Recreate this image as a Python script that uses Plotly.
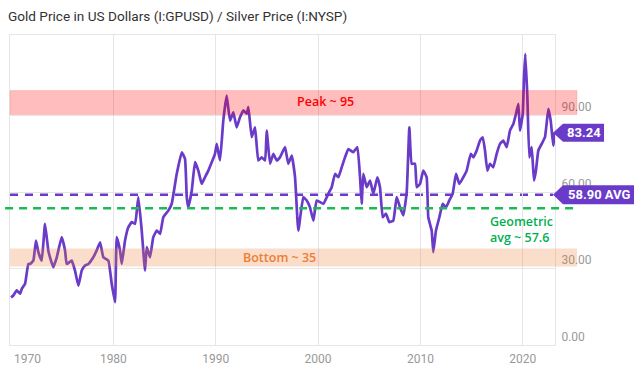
import plotly.graph_objects as go

# ---------------- data ----------------
years = [
    1970.00, 1970.23, 1970.56, 1970.88, 1971.05, 1971.37, 1971.69, 1971.86, 1972.18, 1972.44,
    1972.67, 1973.00, 1973.32, 1973.64, 1973.81, 1974.13, 1974.47, 1974.95, 1975.28, 1975.44,
    1975.93, 1976.25, 1976.58, 1976.91, 1977.23, 1977.55, 1978.04, 1978.37, 1978.70, 1979.02,
    1979.51, 1979.84, 1980.16, 1980.33, 1980.65, 1980.82, 1981.14, 1981.46, 1981.79, 1982.12,
    1982.44, 1982.77, 1983.09, 1983.26, 1983.58, 1983.90, 1984.24, 1984.56, 1984.88, 1985.37,
    1985.70, 1986.19, 1986.68, 1987.00, 1987.17, 1987.32, 1987.66, 1987.98, 1988.30, 1988.63,
    1988.95, 1989.28, 1989.61, 1989.93, 1990.10, 1990.42, 1990.74, 1991.07, 1991.40, 1991.72,
    1992.05, 1992.37, 1992.70, 1993.03, 1993.19, 1993.52, 1993.84, 1994.16, 1994.49, 1994.82,
    1994.98, 1995.31, 1995.63, 1995.96, 1996.28, 1996.77, 1997.09, 1997.43, 1997.75, 1998.07,
    1998.56, 1998.89, 1999.21, 1999.54, 1999.87, 2000.51, 2001.00, 2001.33, 2001.66, 2001.98,
    2002.31, 2002.63, 2002.96, 2003.44, 2003.84, 2004.10, 2004.26, 2004.42, 2004.75, 2005.08,
    2005.40, 2005.79, 2006.05, 2006.32, 2006.64, 2006.96, 2007.35, 2007.68, 2008.01, 2008.33,
    2008.66, 2008.92, 2009.15, 2009.47, 2009.64, 2009.96, 2010.28, 2010.61, 2010.77, 2011.10,
    2011.26, 2011.52, 2011.85, 2012.18, 2012.50, 2012.82, 2013.15, 2013.48, 2013.80, 2014.19,
    2014.52, 2014.92, 2015.17, 2015.50, 2015.82, 2016.09, 2016.31, 2016.54, 2016.80, 2017.12,
    2017.45, 2017.78, 2018.10, 2018.43, 2018.75, 2019.08, 2019.34, 2019.57, 2019.73, 2020.00,
    2020.12, 2020.25, 2020.45, 2020.64, 2020.87, 2021.10, 2021.29, 2021.52, 2021.85, 2022.17,
    2022.50, 2022.73, 2022.98, 2023.10,
]
ratio = [
    18.7, 19.4, 21.4, 20.1, 22.0, 24.0, 31.8, 31.8, 33.1, 41.0,
    36.4, 33.1, 47.5, 37.1, 34.4, 30.5, 34.4, 42.3, 37.1, 31.8,
    33.1, 29.2, 23.3, 29.2, 31.2, 31.8, 34.4, 37.1, 40.3, 34.4,
    33.1, 24.0, 16.8, 42.3, 37.1, 31.8, 41.0, 46.2, 48.2, 47.5,
    58.0, 44.9, 29.2, 38.4, 34.4, 42.3, 44.9, 43.6, 50.1, 52.7,
    55.4, 67.1, 75.6, 73.0, 58.0, 54.0, 60.6, 71.7, 68.4, 63.2,
    65.8, 68.4, 71.7, 75.0, 78.9, 72.4, 88.0, 97.8, 88.0, 91.3,
    85.4, 89.3, 92.0, 90.7, 93.3, 81.5, 85.4, 72.4, 73.6, 72.4,
    84.1, 71.1, 75.0, 72.4, 73.6, 77.6, 71.1, 74.3, 65.8, 44.9,
    58.0, 56.7, 54.0, 48.8, 56.7, 55.4, 59.3, 61.9, 67.1, 65.8,
    69.7, 73.6, 76.9, 75.6, 77.6, 65.8, 55.4, 67.1, 61.9, 64.5,
    59.3, 65.8, 61.9, 50.1, 51.5, 48.2, 48.8, 58.0, 54.0, 50.8,
    59.9, 85.4, 71.1, 71.1, 61.9, 63.2, 68.4, 65.8, 50.1, 44.9,
    36.4, 44.9, 50.1, 55.4, 54.0, 56.7, 59.3, 67.1, 63.2, 65.8,
    68.4, 75.0, 73.6, 76.3, 80.2, 81.5, 76.3, 68.4, 71.1, 69.7,
    75.0, 78.9, 80.2, 77.6, 84.1, 86.7, 90.7, 94.6, 84.1, 90.7,
    105.0, 114.2, 97.2, 73.6, 77.6, 64.5, 68.4, 76.3, 78.9, 81.5,
    92.6, 88.0, 78.2, 83.24,
]
last_value = 83.24
avg_value = 58.90
geo_avg_line = 53.6          # where the hand-drawn green line sits
peak_band = [90.4, 99.8]
bottom_band = [30.8, 37.9]

x_ticks = [1970, 1980, 1990, 2000, 2010, 2020]
x_labels = ["1970", "1980", "1990", "2000", "2010", "2020"]
y_ticks = [0, 30, 60, 90]
y_labels = ["0.00", "30.00", "60.00", "90.00"]

title = "Gold Price in US Dollars (I:GPUSD) / Silver Price (I:NYSP)"
purple = "#6a3bc9"
grid = "#e6e6e6"
tickgray = "#999999"

fig = go.Figure()
fig.add_trace(go.Scatter(x=years, y=ratio, mode="lines",
                         line=dict(color=purple, width=2.7, shape="spline", smoothing=0.35),
                         hoverinfo="skip", showlegend=False))

shapes = [
    dict(type="line", xref="paper", yref="y", x0=0, x1=0.9963, y0=avg_value, y1=avg_value,
         line=dict(color=purple, width=2.5, dash="8px,7px"), layer="below"),
    dict(type="rect", xref="paper", yref="y", x0=0, x1=1.0404, y0=peak_band[0], y1=peak_band[1],
         fillcolor="rgba(255,0,0,0.26)", line=dict(color="rgba(220,0,0,0.12)", width=1), layer="above"),
    dict(type="rect", xref="paper", yref="y", x0=0, x1=1.0404, y0=bottom_band[0], y1=bottom_band[1],
         fillcolor="rgba(237,125,49,0.25)", line=dict(width=0), layer="above"),
    dict(type="line", xref="paper", yref="y", x0=-0.009, x1=1.0404, y0=geo_avg_line, y1=geo_avg_line,
         line=dict(color="#1db954", width=2.5, dash="8px,6px"), layer="above"),
    dict(type="path", xref="paper", yref="y", xsizemode="pixel", ysizemode="pixel",
         xanchor=1, yanchor=last_value, path="M -2,0 L 8,9 L 49,9 L 49,-9 L 8,-9 Z",
         fillcolor=purple, line=dict(width=0), layer="above"),
    dict(type="path", xref="paper", yref="y", xsizemode="pixel", ysizemode="pixel",
         xanchor=1, yanchor=avg_value, path="M -2,0 L 8,9.5 L 79,9.5 L 79,-9.5 L 8,-9.5 Z",
         fillcolor=purple, line=dict(width=0), layer="above"),
]

annotations = [
    dict(text=f"{last_value:.2f}", x=1, xref="paper", y=last_value, yref="y", xshift=29,
         xanchor="center", yanchor="middle", showarrow=False,
         font=dict(family="Roboto", size=13, color="white", weight="bold")),
    dict(text=f"{avg_value:.2f} AVG", x=1, xref="paper", y=avg_value, yref="y", xshift=44,
         xanchor="center", yanchor="middle", showarrow=False,
         font=dict(family="Roboto", size=13, color="white", weight="bold")),
    dict(text="Peak ~ 95", x=2000.7, xref="x", y=sum(peak_band) / 2 + 0.6, yref="y",
         showarrow=False, font=dict(family="Open Sans", size=12.5, color="#ff0000", weight=600)),
    dict(text="Bottom ~ 35", x=1996.2, xref="x", y=sum(bottom_band) / 2, yref="y",
         showarrow=False, font=dict(family="Open Sans", size=12.5, color="#ed7d31", weight=600)),
    dict(text="Geometric<br>avg ~ 57.6", x=2016.6, xref="x", y=45.4, yref="y", align="left",
         xanchor="left", showarrow=False,
         font=dict(family="Open Sans", size=12.5, color="#00b050", weight=600)),
    dict(text=x_labels[0], x=x_ticks[0], xref="x", y=0, yref="paper", yshift=-5,
         xanchor="left", yanchor="top", xshift=1, showarrow=False,
         font=dict(family="Roboto", size=12, color=tickgray)),
]

fig.update_layout(
    width=640, height=372,
    margin=dict(l=10, r=85, t=35, b=27, autoexpand=False),
    paper_bgcolor="white", plot_bgcolor="white",
    title=dict(text=title, x=8 / 640, xanchor="left", y=1 - 16 / 372, yanchor="middle",
               font=dict(family="Roboto", size=13.6, color="#333333")),
    xaxis=dict(range=[1969.9, 2023.15], tickvals=x_ticks[1:], ticktext=x_labels[1:],
               showgrid=True, gridcolor=grid, gridwidth=1, zeroline=False, automargin=False,
               showline=True, linecolor=grid, mirror=True, ticks="", ticklabelstandoff=3,
               tickfont=dict(family="Roboto", size=12, color=tickgray)),
    yaxis=dict(range=[0, 121.6], tickvals=y_ticks, ticktext=y_labels, side="right",
               showgrid=True, gridcolor=grid, gridwidth=1, zeroline=False, automargin=False,
               showline=True, linecolor=grid, mirror=True, ticks="", ticklabelstandoff=3,
               ticklabelposition="outside top",
               tickfont=dict(family="Roboto", size=12, color=tickgray)),
    shapes=shapes, annotations=annotations, showlegend=False,
)

fig.write_html("out.html", config={"displayModeBar": False},
               post_script="document.body.style.margin='0';document.body.style.overflow='hidden';")
